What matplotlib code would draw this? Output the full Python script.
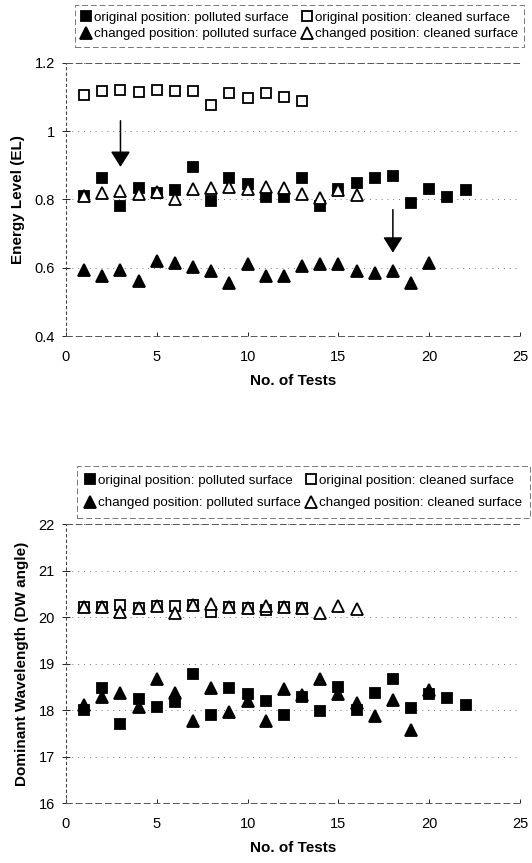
import matplotlib
matplotlib.use("Agg")
import matplotlib.pyplot as plt

plt.rcParams['font.family'] = ['Liberation Sans', 'DejaVu Sans']

# ---------------- data ----------------
labels = ["original position: polluted surface",
          "original position: cleaned surface",
          "changed position: polluted surface",
          "changed position: cleaned surface"]

# Energy Level (top)
el_orig_poll_x = list(range(1, 23))
el_orig_poll = [0.809, 0.862, 0.780, 0.834, 0.820, 0.828, 0.894, 0.794, 0.862, 0.844, 0.807,
                0.807, 0.862, 0.780, 0.829, 0.848, 0.862, 0.868, 0.789, 0.831, 0.807, 0.826]
el_orig_clean_x = list(range(1, 14))
el_orig_clean = [1.104, 1.118, 1.121, 1.113, 1.120, 1.116, 1.116, 1.077, 1.110, 1.097, 1.110,
                 1.100, 1.088]
el_chg_poll_x = list(range(1, 21))
el_chg_poll = [0.593, 0.577, 0.593, 0.562, 0.620, 0.613, 0.603, 0.591, 0.554, 0.611,
               0.576, 0.576, 0.605, 0.611, 0.611, 0.590, 0.584, 0.591, 0.554, 0.613]
el_chg_clean_x = list(range(1, 17))
el_chg_clean = [0.810, 0.818, 0.824, 0.817, 0.821, 0.802, 0.831, 0.834, 0.836, 0.831,
                0.836, 0.834, 0.817, 0.805, 0.828, 0.812]

# Dominant Wavelength (bottom)
dw_orig_poll_x = list(range(1, 23))
dw_orig_poll = [18.01, 18.47, 17.69, 18.24, 18.07, 18.18, 18.77, 17.89, 18.47, 18.34, 18.19,
                17.89, 18.27, 17.98, 18.49, 17.99, 18.36, 18.66, 18.05, 18.34, 18.26, 18.11]
dw_orig_clean_x = list(range(1, 14))
dw_orig_clean = [20.21, 20.22, 20.26, 20.19, 20.24, 20.24, 20.26, 20.11, 20.22, 20.19,
                 20.15, 20.22, 20.19]
dw_chg_poll_x = list(range(1, 21))
dw_chg_poll = [18.10, 18.29, 18.37, 18.06, 18.67, 18.36, 17.77, 18.48, 17.96, 18.19,
               17.76, 18.45, 18.33, 18.66, 18.34, 18.14, 17.87, 18.22, 17.57, 18.43]
dw_chg_clean_x = list(range(1, 17))
dw_chg_clean = [20.21, 20.22, 20.11, 20.19, 20.24, 20.08, 20.26, 20.29, 20.22, 20.19,
                20.24, 20.22, 20.19, 20.08, 20.24, 20.17]

el_ticks = [0.4, 0.6, 0.8, 1.0, 1.2]
el_ticklabels = ["0.4", "0.6", "0.8", "1", "1.2"]
dw_ticks = [16, 17, 18, 19, 20, 21, 22]
x_ticks = [0, 5, 10, 15, 20, 25]

# arrows (top chart): (x, y_start, y_end)
arrows = [(3, 1.03, 0.895), (18, 0.77, 0.644)]

# ---------------- figure ----------------
W, H = 532, 863
fig = plt.figure(figsize=(W / 100, H / 100), dpi=100)

ax1 = fig.add_axes([66 / W, 1 - 336 / H, 454 / W, (336 - 62.7) / H])
ax2 = fig.add_axes([66 / W, 1 - 803 / H, 454 / W, (803 - 524) / H])

sq_ms = 7.2
tr_ms = 8.0
mew = 1.3


def draw(ax, d):
    (xp, yp), (xc, yc), (xtp, ytp), (xtc, ytc) = d
    h1, = ax.plot(xp, yp, ls='none', marker='s', ms=sq_ms, mfc='black', mec='black', mew=mew)
    h2, = ax.plot(xc, yc, ls='none', marker='s', ms=sq_ms, mfc='white', mec='black', mew=mew)
    h3, = ax.plot(xtp, ytp, ls='none', marker='^', ms=tr_ms, mfc='black', mec='black', mew=mew)
    h4, = ax.plot(xtc, ytc, ls='none', marker='^', ms=tr_ms, mfc='white', mec='black', mew=mew)
    return [h1, h2, h3, h4]


def style(ax, yticks, yticklabels, ylim, ylabel):
    ax.set_xlim(0, 25)
    ax.set_ylim(*ylim)
    ax.set_xticks(x_ticks)
    ax.set_yticks(yticks)
    ax.set_yticklabels(yticklabels)
    ax.tick_params(axis='y', direction='inout', length=6, width=0.6, labelsize=10.5, pad=5)
    ax.tick_params(axis='x', direction='in', length=3, width=0.6, labelsize=10.5, pad=10)
    ax.grid(axis='y', linestyle=(0, (1, 5)), color='#777777', lw=0.7)
    ax.set_axisbelow(True)
    ax.spines['right'].set_visible(False)
    for s in ('top', 'bottom'):
        ax.spines[s].set_linestyle((0, (6, 4)))
        ax.spines[s].set_color('#555555')
        ax.spines[s].set_linewidth(0.7)
    ax.spines['left'].set_linestyle((0, (2, 3)))
    ax.spines['left'].set_color('#444444')
    ax.spines['left'].set_linewidth(0.8)
    ax.set_xlabel("No. of Tests", fontsize=11, fontweight='bold', labelpad=7)
    ax.set_ylabel(ylabel, fontsize=11, fontweight='bold', labelpad=7)


h_top = draw(ax1, [(el_orig_poll_x, el_orig_poll), (el_orig_clean_x, el_orig_clean),
                   (el_chg_poll_x, el_chg_poll), (el_chg_clean_x, el_chg_clean)])
h_bot = draw(ax2, [(dw_orig_poll_x, dw_orig_poll), (dw_orig_clean_x, dw_orig_clean),
                   (dw_chg_poll_x, dw_chg_poll), (dw_chg_clean_x, dw_chg_clean)])

style(ax1, el_ticks, el_ticklabels, (0.4, 1.2), "Energy Level (EL)")
style(ax2, dw_ticks, [str(t) for t in dw_ticks], (16, 22), "Dominant Wavelength (DW angle)")

for (xa, y0, y1) in arrows:
    ax1.annotate('', xy=(xa, y1), xytext=(xa, y0),
                 arrowprops=dict(arrowstyle='-|>,head_length=0.95,head_width=0.6',
                                 mutation_scale=10, lw=1.1, color='black',
                                 shrinkA=0, shrinkB=0))


def legend(handles, anchor, lspacing, bpad):
    order = [0, 2, 1, 3]
    leg = fig.legend([handles[i] for i in order], [labels[i] for i in order],
                     loc='upper left', bbox_to_anchor=anchor, ncol=2,
                     fontsize=9.6, frameon=True, fancybox=False,
                     handlelength=0.7, handletextpad=0.2, columnspacing=0.45,
                     labelspacing=lspacing, borderpad=bpad, borderaxespad=0.0)
    fr = leg.get_frame()
    fr.set_edgecolor('#555555')
    fr.set_linewidth(0.7)
    fr.set_linestyle((0, (6, 3)))
    return leg


legend(h_top, (75 / W, 1 - 5 / H), 0.3, 0.5)
legend(h_bot, (77 / W, 1 - 466 / H), 0.75, 0.65)

fig.savefig("out.png", dpi=100)
